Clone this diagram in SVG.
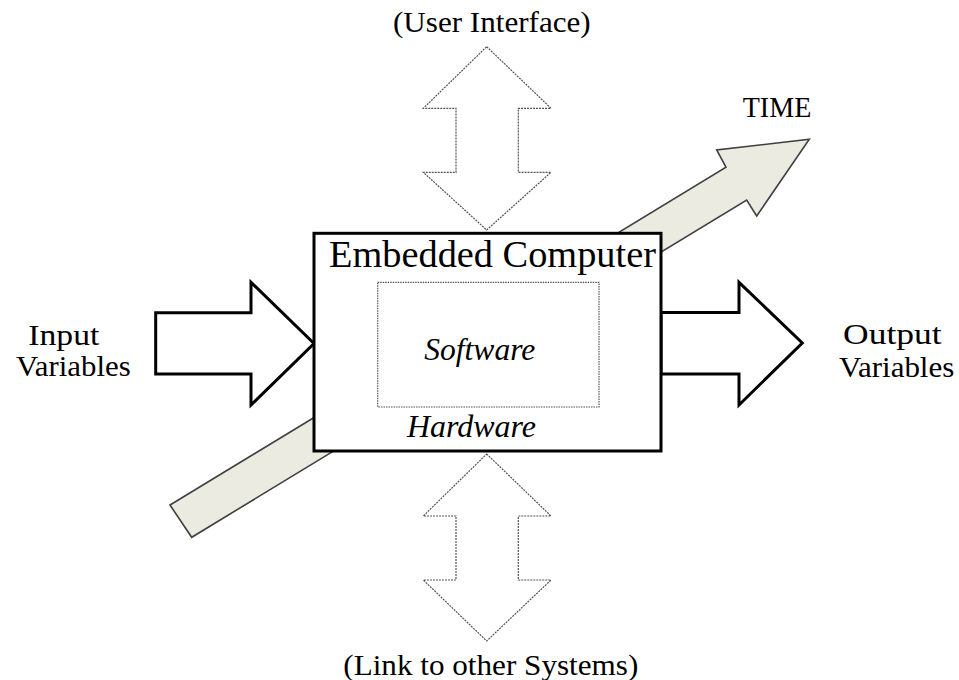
<svg xmlns="http://www.w3.org/2000/svg" width="959" height="680" viewBox="0 0 959 680">
  <style>
    .t { font-family: 'Liberation Serif', 'Times New Roman', Times, serif; fill: #000; }
    .label { font-size: 29.5px; }
    .title { font-size: 37px; }
    .inner { font-size: 30.5px; font-style: italic; }
    .flow { fill: #fff; stroke: #000; stroke-width: 3; stroke-linejoin: miter; }
    .link { fill: #fff; stroke: #555; stroke-width: 1.2; stroke-dasharray: 2 1; }
    .time { fill: #ECEBE1; stroke: #404040; stroke-width: 1.6; stroke-linejoin: miter; }
  </style>

  <g id="connectors">
    <!-- time arrow passes behind the computer box -->
    <polygon class="time" points="170,505 726,167.3 716.7,150 809.3,139.3 756.7,216 746.7,200 191.7,537.3"/>
    <!-- user interface (two-way) -->
    <polygon class="link" points="486.7,46.7 551,108.3 518.3,108.3 518.3,172.3 551,172.3 486.7,230 423.3,172.3 456,172.3 456,108.3 423.3,108.3"/>
    <!-- link to other systems (two-way) -->
    <polygon class="link" points="486.7,454 551,516 518.3,516 518.3,580 551,580 486.7,641 423.3,580 456,580 456,516 423.3,516"/>
    <!-- inputs -->
    <polygon class="flow" points="155.7,312.7 251,312.7 251,282.3 314,343.5 251,405 251,374 155.7,374"/>
    <!-- outputs -->
    <polygon class="flow" points="661,312.5 739,312.5 739,282.3 802.3,343 739,405 739,374 661,374"/>
  </g>

  <g id="computer">
    <rect x="314" y="233.3" width="347" height="217.7" fill="#fff" stroke="#000" stroke-width="3"/>
    <text class="t title" x="329" y="267.3" textLength="327" lengthAdjust="spacingAndGlyphs">Embedded Computer</text>
    <text class="t inner" x="407" y="437.3" textLength="129" lengthAdjust="spacingAndGlyphs">Hardware</text>
  </g>

  <g id="software">
    <rect x="377.7" y="282.3" width="221.3" height="124.7" fill="#fff" stroke="#555" stroke-width="1.2" stroke-dasharray="1.5 1"/>
    <text class="t inner" x="424.3" y="360" textLength="111" lengthAdjust="spacingAndGlyphs">Software</text>
  </g>

  <g id="input-label">
    <text class="t label" x="28.3" y="345" textLength="71" lengthAdjust="spacingAndGlyphs">Input</text>
    <text class="t label" x="16" y="375.7" textLength="114.7" lengthAdjust="spacingAndGlyphs">Variables</text>
  </g>

  <g id="output-label">
    <text class="t label" x="843" y="344" textLength="98.7" lengthAdjust="spacingAndGlyphs">Output</text>
    <text class="t label" x="839" y="377.3" textLength="115.3" lengthAdjust="spacingAndGlyphs">Variables</text>
  </g>

  <g id="ui-label">
    <text class="t label" x="393" y="32" textLength="197.7" lengthAdjust="spacingAndGlyphs">(User Interface)</text>
  </g>

  <g id="link-label">
    <text class="t label" x="343.3" y="674.5" textLength="295" lengthAdjust="spacingAndGlyphs">(Link to other Systems)</text>
  </g>

  <g id="time-label">
    <text class="t label" x="742.7" y="117.3" textLength="68.6" lengthAdjust="spacingAndGlyphs">TIME</text>
  </g>
</svg>
